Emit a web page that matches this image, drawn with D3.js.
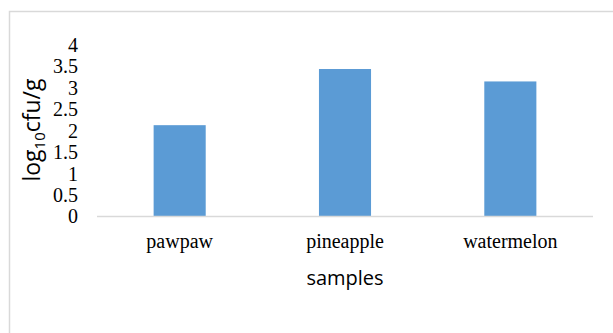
<!DOCTYPE html>
<html><head><meta charset="utf-8">
<script src="https://cdn.jsdelivr.net/npm/d3@7"></script>
<style>body{margin:0;background:#fff}svg{display:block}</style>
</head><body>
<svg id="c" width="613" height="333"></svg>
<script>
const categories = ["pawpaw", "pineapple", "watermelon"];
const values = [2.13, 3.44, 3.15];
const yTicks = [0, 0.5, 1, 1.5, 2, 2.5, 3, 3.5, 4];
const yTitle = "log10cfu/g";
const xTitle = "samples";

const svg = d3.select("#c");
svg.append("rect").attr("x", 9.5).attr("y", 11.5).attr("width", 640).attr("height", 360)
  .attr("fill", "#fff").attr("stroke", "#d9d9d9").attr("stroke-width", 1.5);

const x = d3.scaleBand().domain(categories).range([97, 593]).paddingInner(0.685).paddingOuter(0.3425);
const y = d3.scaleLinear().domain([0, 4]).range([216.5, 45]);

svg.selectAll(".bar").data(values).join("rect")
  .attr("x", (d, i) => x(categories[i])).attr("width", x.bandwidth())
  .attr("y", d => y(d)).attr("height", d => y(0) - y(d))
  .attr("fill", "#5b9bd5");

svg.append("line").attr("x1", 97).attr("x2", 593).attr("y1", y(0)).attr("y2", y(0))
  .attr("stroke", "#d9d9d9").attr("stroke-width", 1.5);

const yAxis = svg.append("g").attr("transform", "translate(82,0)")
  .call(d3.axisLeft(y).tickValues(yTicks).tickSize(0).tickPadding(0).tickFormat(d3.format("")));
yAxis.select(".domain").remove();
yAxis.selectAll("text").attr("font-family", "'Liberation Serif','Times New Roman',serif")
  .attr("font-size", 20).attr("fill", "#000").attr("dx", -4);

const xAxis = svg.append("g").attr("transform", `translate(0,${y(0)})`)
  .call(d3.axisBottom(x).tickSize(0).tickPadding(17));
xAxis.select(".domain").remove();
xAxis.selectAll("text").attr("font-family", "'Liberation Serif','Times New Roman',serif")
  .attr("font-size", 20).attr("fill", "#000");

svg.append("text").attr("x", 345).attr("y", 285).attr("text-anchor", "middle")
  .attr("font-family", "'Open Sans','Noto Sans',sans-serif").attr("font-size", 20).attr("fill", "#000")
  .text(xTitle);

const yt = svg.append("text").attr("transform", "translate(40,130) rotate(-90)").attr("text-anchor", "middle")
  .attr("font-family", "'Open Sans','Noto Sans',sans-serif").attr("font-size", 23).attr("fill", "#000");
yt.append("tspan").text(yTitle.slice(0, 3));
yt.append("tspan").attr("font-size", 15).attr("dy", 5).text(yTitle.slice(3, 5));
yt.append("tspan").attr("dy", -5).text(yTitle.slice(5));
</script>
</body></html>
